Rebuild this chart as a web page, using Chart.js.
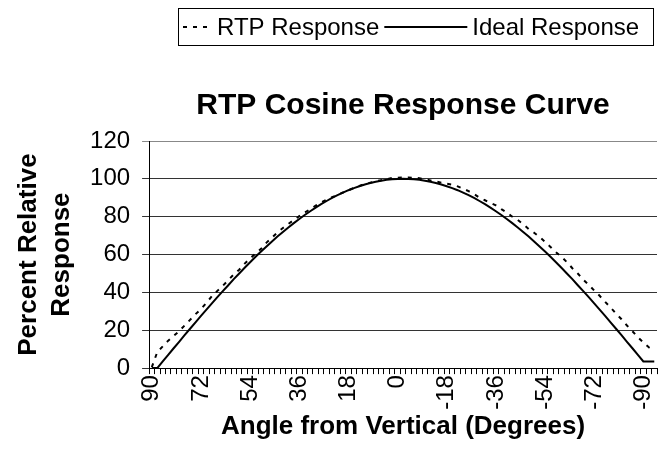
<!DOCTYPE html>
<html>
<head>
<meta charset="utf-8">
<script src="https://cdn.jsdelivr.net/npm/chart.js@4.4.1/dist/chart.umd.min.js"></script>
<style>
  html, body { margin: 0; padding: 0; background: #fff; }
  #wrap { width: 663px; height: 462px; }
</style>
</head>
<body>
<div id="wrap"><canvas id="myChart"></canvas></div>
<script>
// angle categories, 2 degree steps
const angles = [90, 88, 86, 84, 82, 80, 78, 76, 74, 72, 70, 68, 66, 64, 62, 60, 58, 56, 54, 52,
  50, 48, 46, 44, 42, 40, 38, 36, 34, 32, 30, 28, 26, 24, 22, 20, 18, 16, 14, 12,
  10, 8, 6, 4, 2, 0, -2, -4, -6, -8, -10, -12, -14, -16, -18, -20, -22, -24, -26, -28,
  -30, -32, -34, -36, -38, -40, -42, -44, -46, -48, -50, -52, -54, -56, -58, -60, -62, -64, -66, -68,
  -70, -72, -74, -76, -78, -80, -82, -84, -86, -88, -90, -92, -94];

const rtpResponse = [0.5, 8.5, 11.5, 14.5, 17, 19.5, 22.5, 25.5, 28.5, 31.2, 34.5, 38, 40.8, 43.5, 46.5, 49.5, 52, 55.2, 58, 60.5,
  63, 66.3, 69, 71.7, 74, 76.2, 78.2, 80.3, 82.2, 84, 85.8, 87.5, 89, 90.3, 91.5, 92.8, 94, 95.2, 96.3, 97.3,
  98, 98.7, 99.3, 99.8, 100.5, 100.6, 100.7, 100.7, 100.6, 100.3, 99.8, 99.2, 98.6, 98, 97.4, 97, 96, 94.8, 93.5, 92,
  90, 88.7, 87.3, 86, 84, 82.2, 80, 78.3, 76, 73.5, 71.5, 69.3, 66.7, 64, 61.2, 58.8, 56, 52.8, 50, 46.7,
  44, 41, 38.2, 35, 32, 28.8, 25.8, 22.5, 19.5, 16.3, 13.5, 11, 9];

const idealResponse = [0, 0, 3.5, 7, 10.5, 13.9, 17.4, 20.8, 24.2, 27.6, 30.9, 34.2, 37.5, 40.7, 43.8, 47, 50, 53, 55.9, 58.8,
  61.6, 64.3, 66.9, 69.5, 71.9, 74.3, 76.6, 78.8, 80.9, 82.9, 84.8, 86.6, 88.3, 89.9, 91.4, 92.7, 94, 95.1, 96.1, 97,
  97.8, 98.5, 99, 99.5, 99.8, 99.9, 100, 99.9, 99.8, 99.5, 99, 98.5, 97.8, 97, 96.1, 95.1, 94, 92.7, 91.4, 89.9,
  88.3, 86.6, 84.8, 82.9, 80.9, 78.8, 76.6, 74.3, 71.9, 69.5, 66.9, 64.3, 61.6, 58.8, 55.9, 53, 50, 47, 43.8, 40.7,
  37.5, 34.2, 30.9, 27.6, 24.2, 20.8, 17.4, 13.9, 10.5, 7, 3.5, 3.5, 3.5];

const yTicks = [0, 20, 40, 60, 80, 100, 120];

const FONT = "'Liberation Sans', Arial, sans-serif";

// legend drawn by hand: framed box, short dashed sample, long solid sample
const boxedLegend = {
  id: 'boxedLegend',
  afterDraw(chart) {
    const c = chart.ctx;
    const sets = chart.data.datasets;
    const sampleW = [29, 83];
    const y = 27;
    c.save();
    c.font = '24px ' + FONT;
    c.fillStyle = '#000';
    c.textBaseline = 'middle';
    c.textAlign = 'left';
    let x = 183;
    sets.forEach((ds, i) => {
      c.strokeStyle = ds.borderColor;
      c.lineWidth = 2;
      c.setLineDash(ds.borderDash || []);
      c.beginPath();
      c.moveTo(x, y);
      c.lineTo(x + sampleW[i], y);
      c.stroke();
      x += sampleW[i] + 5;
      c.fillText(ds.label, x, y + 1);
      x += c.measureText(ds.label).width + 5;
    });
    c.setLineDash([]);
    c.lineWidth = 1;
    c.strokeStyle = '#000';
    c.strokeRect(178.5, 8.5, 475, 37);
    c.restore();
  }
};

const ctx = document.getElementById('myChart');

new Chart(ctx, {
  type: 'line',
  data: {
    labels: angles,
    datasets: [{
      label: 'RTP Response',
      data: rtpResponse,
      borderColor: '#000',
      backgroundColor: 'transparent',
      borderWidth: 2,
      borderDash: [4, 6],
      pointRadius: 0,
      tension: 0
    }, {
      label: 'Ideal Response',
      data: idealResponse,
      borderColor: '#000',
      backgroundColor: 'transparent',
      borderWidth: 2,
      pointRadius: 0,
      tension: 0
    }]
  },
  options: {
    responsive: true,
    maintainAspectRatio: false,
    animation: false,
    devicePixelRatio: 1,
    layout: { padding: { top: 7, right: 6, left: 12, bottom: 20 } },
    plugins: {
      legend: { display: false },
      title: {
        display: true,
        text: 'RTP Cosine Response Curve',
        color: '#000',
        fullSize: false,
        font: { family: FONT, size: 30, weight: 'bold' },
        padding: { top: 81, bottom: 17 }
      },
      tooltip: { enabled: false }
    },
    scales: {
      x: {
        type: 'category',
        offset: true,
        afterFit: (scale) => { scale.paddingRight = 0; },
        grid: {
          offset: true,
          drawOnChartArea: false,
          drawTicks: true,
          tickLength: 6,
          color: '#000'
        },
        border: { color: '#000', width: 1 },
        ticks: {
          autoSkip: false,
          minRotation: 90,
          maxRotation: 90,
          padding: 1,
          color: '#000',
          font: { family: FONT, size: 24 },
          callback: (val, idx) => (idx % 9 === 0 ? String(angles[idx]) : '')
        },
        title: {
          display: true,
          text: 'Angle from Vertical (Degrees)',
          color: '#000',
          font: { family: FONT, size: 26, weight: 'bold' },
          padding: { top: 0, bottom: 0 }
        }
      },
      y: {
        min: 0,
        max: 120,
        afterBuildTicks: (axis) => { axis.ticks = yTicks.map(v => ({ value: v })); },
        grid: {
          color: (c) => (c.tick && c.tick.value === 120 ? '#888' : '#333'),
          tickLength: 7
        },
        border: { color: '#000', width: 1 },
        ticks: {
          padding: 12,
          color: '#000',
          font: { family: FONT, size: 24 }
        },
        title: {
          display: true,
          text: ['Percent Relative', 'Response'],
          color: '#000',
          font: { family: FONT, size: 26, weight: 'bold', lineHeight: 1.27 },
          padding: { top: 0, bottom: 0 }
        }
      }
    }
  },
  plugins: [boxedLegend]
});
</script>
</body>
</html>
